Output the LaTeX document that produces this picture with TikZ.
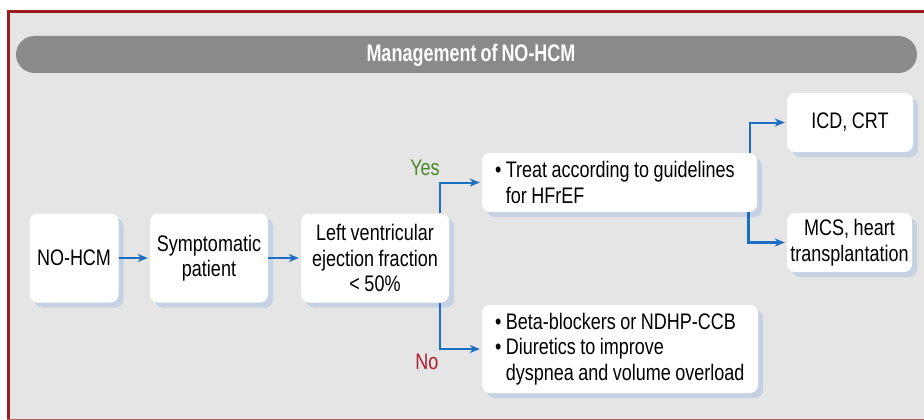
\documentclass[tikz,border=0pt]{standalone}
\usepackage{fontspec}
\setmainfont{Liberation Sans}
\newfontfamily\boxfont[FakeStretch=0.8,WordSpace=0.9]{Liberation Sans}
\newfontfamily\headfont[FakeStretch=0.75,WordSpace=0.8]{Liberation Sans}
\usetikzlibrary{arrows.meta,calc,shadows}

\definecolor{panelgray}{HTML}{E5E5E5}
\definecolor{bargray}{HTML}{8A8A8A}
\definecolor{framered}{HTML}{9B1B1E}
\definecolor{shadowblue}{HTML}{C4D2E3}
\definecolor{flowblue}{HTML}{1B6EC2}
\definecolor{yesgreen}{HTML}{4A8A2A}
\definecolor{nored}{HTML}{B01C2E}

\tikzset{
  card/.style={fill=white, rounded corners=8pt, inner sep=0pt, align=center,
    font=\boxfont\fontsize{22.5}{25.5}\selectfont,
    general shadow={fill=shadowblue, shadow xshift=5pt, shadow yshift=-5pt}},
  listcard/.style={card, align=left, inner xsep=13pt},
  flow/.style={draw=flowblue, line width=2pt, shorten >=2pt,
    -{Stealth[length=10pt,width=8pt,inset=3pt]}},
  branch/.style={font=\boxfont\fontsize{22.5}{24}\selectfont},
}

\begin{document}
\begin{tikzpicture}[x=1pt, y=-1pt]
  \useasboundingbox (0,0) rectangle (924,420);
  % page and panel
  \fill[white] (0,0) rectangle (924,420);
  \fill[panelgray] (10,13) rectangle (924,419);
  \draw[framered, line width=3pt] (7,11.5) -- (924,11.5);
  \draw[framered, line width=3pt] (8.5,10) -- (8.5,420);
  \draw[framered!70, line width=1pt] (7,419.5) -- (924,419.5);

  % heading bar
  \node (head) [fill=bargray, rounded corners=18.5pt, minimum width=901pt,
    minimum height=37pt, inner sep=0pt] at (466.5,54.5) {};
  \node (headtext) [text=white, font=\headfont\bfseries\fontsize{24}{26}\selectfont]
    at (471,55) {Management of NO-HCM};

  % boxes
  \node (nohcm) [card, minimum width=89pt, minimum height=89pt] at (74,258) {NO-HCM};
  \node (sympt) [card, minimum width=118pt, minimum height=89pt] at (209,258)
    {Symptomatic\\patient};
  \node (lvef) [card, minimum width=148pt, minimum height=89pt] at (375,258)
    {Left ventricular\\ejection fraction\\< 50\%};
  \node (treat) [listcard, text width=249pt, minimum height=59pt] at (619.5,182.5)
    {\spaceskip=0pt\relax
     \mbox{\textbullet\ Treat according to guidelines}\\
     \mbox{\hphantom{\textbullet\ }for HFrEF}};
  \node (icd) [card, minimum width=126pt, minimum height=59pt] at (850,122.5)
    {ICD, CRT};
  \node (mcs) [card, minimum width=125pt, minimum height=59pt] at (849.5,242.5)
    {MCS, heart\\transplantation};
  \node (beta) [listcard, text width=250pt, minimum height=88pt] at (620,349)
    {\spaceskip=0pt\relax
     \mbox{\textbullet\ Beta-blockers or NDHP-CCB}\\
     \mbox{\textbullet\ Diuretics to improve}\\
     \mbox{\hphantom{\textbullet\ }dyspnea and volume overload}};

  % branch labels
  \node (yes) [branch, text=yesgreen] at (425,168) {Yes};
  \node (no) [branch, text=nored] at (427,362) {No};

  % connectors
  \draw[flow] (nohcm.east) -- (sympt.west);
  \draw[flow] (sympt.east) -- (lvef.west);
  \draw[flow] ($(lvef.north east)+(-9,0)$) |- (treat.west);
  \draw[flow] ($(lvef.south east)+(-9,0)$) |- (beta.west);
  \draw[flow] ($(treat.north east)+(-7,0)$) |- (icd.west);
  \draw[flow, line width=3pt] ($(treat.south east)+(-9,0)$) |- (mcs.west);
\end{tikzpicture}
\end{document}
